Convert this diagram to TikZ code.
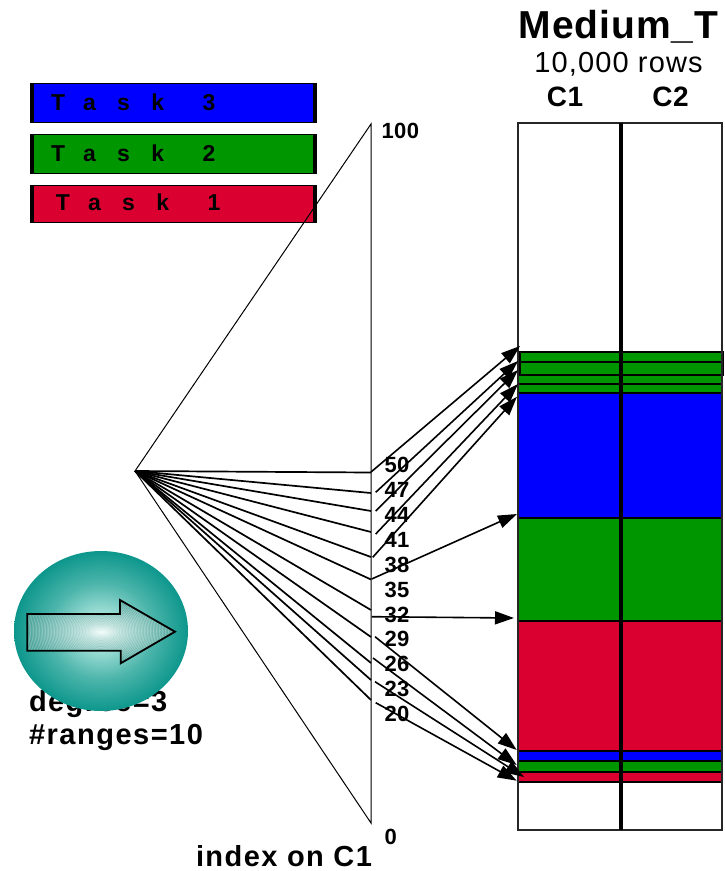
\documentclass[tikz,border=0pt]{standalone}
\usepackage{fontspec}
\setmainfont{Liberation Sans}
\usetikzlibrary{arrows.meta}
\definecolor{tblue}{RGB}{0,0,255}
\definecolor{tgreen}{RGB}{0,150,0}
\definecolor{tred}{RGB}{218,0,48}
\pgfdeclareradialshading{ballshade}{\pgfpoint{0bp}{0bp}}{rgb(0bp)=(0.82,0.95,0.93);rgb(6bp)=(0.62,0.87,0.84);rgb(15bp)=(0.30,0.71,0.67);rgb(25bp)=(0.05,0.59,0.55);rgb(50bp)=(0.05,0.59,0.55)}
\pgfdeclareradialshading{arrowshade}{\pgfpoint{0bp}{0bp}}{rgb(0bp)=(0.95,0.99,0.98);rgb(6bp)=(0.72,0.87,0.85);rgb(25bp)=(0.28,0.64,0.60);rgb(50bp)=(0.25,0.62,0.58)}
\tikzset{
  x=1pt,y=-1pt,
  every node/.style={inner sep=0pt,outer sep=0pt,font=\fontsize{22}{24}\selectfont\bfseries},
  num/.style={anchor=west},
  bigtext/.style={font=\fontsize{29}{32}\selectfont\bfseries,anchor=base west},
  bar/.style={draw=black,line width=1pt},
  cell/.style={draw=black!85,line width=1.8pt},
  fan/.style={line width=1.7pt},
  thin line/.style={line width=1pt},
  pointer/.style={line width=1.6pt,-{Triangle[length=19pt,width=13pt]}},
}
\newcommand{\taskword}[1]{T\hspace{18pt}a\hspace{21.2pt}s\hspace{21.6pt}k\hspace{38.5pt}#1}
\newcommand{\spaced}[2]{{\addfontfeature{LetterSpace=#1}#2}}
\begin{document}
\begin{tikzpicture}
\useasboundingbox (0,0) rectangle (725,871);
% title
\node[font=\fontsize{39}{42}\selectfont\bfseries,anchor=base] (title) at (618.5,38) {\spaced{2.3}{Medium\_T}};
\node[font=\fontsize{29}{32}\selectfont,anchor=base] (rows) at (618.5,72.5) {\spaced{4}{10,000 rows}};
\node[font=\fontsize{28}{30}\selectfont\bfseries,anchor=base] (c1) at (565,106) {\spaced{2}{C1}};
\node[font=\fontsize{28}{30}\selectfont\bfseries,anchor=base] (c2) at (670.5,106) {\spaced{2}{C2}};
% legend
\foreach \nm/\col/\ya/\yb/\tx/\lbl in {three/tblue/83.5/122.5/51/3,two/tgreen/134.5/173.5/51/2,one/tred/185/222.5/56/1}{
  \fill[\col] (30,\ya) rectangle (316,\yb);
  \draw[bar] (30,\ya) rectangle (316,\yb);
  \fill[black] (30,\ya) rectangle (33.5,\yb);
  \fill[black] (312.5,\ya) rectangle (316,\yb);
  \node[font=\fontsize{23}{25}\selectfont\bfseries,anchor=base west] (task\nm) at (\tx,{\yb-12.5}) {\taskword{\lbl}};
}
% table
\fill[white] (518,123) rectangle (722,830);
\foreach \ya/\yb/\col in {352/362/tgreen,362/375/tgreen,375/384/tgreen,384/393/tgreen,393/518/tblue,518/621/tgreen,621/751/tred,751/761/tblue,761/772/tgreen,772/782/tred}{
  \fill[\col] (518,\ya) rectangle (722,\yb);
  \draw[black,line width=1.3pt] (518,\ya) rectangle (722,\yb);
}
\draw[black,line width=1.3pt] (520,352) rectangle (723.5,375);
\draw[cell] (518,123) rectangle (722,830);
\draw[black,line width=4pt] (620.5,123) -- (620.5,830);
% fan / index triangle
\coordinate (apex) at (135,471);
\coordinate (top) at (371,124);
\coordinate (bot) at (371,823);
\draw[thin line] (top) -- (apex) -- (bot) -- cycle;
\foreach \nm/\y in {a/472.5,b/493,c/511,d/532,e/557,f/579.5,g/610,h/637,i/663,j/680,k/700}{
  \coordinate (f\nm) at (371,\y);
  \draw[fan] (apex) -- (f\nm);
}
% labels
\node[num] (n100) at (381.5,131) {\spaced{2}{100}};
\foreach \nm/\y/\lbl in {l50/465/50,l47/490/47,l44/515/44,l41/540/41,l38/565/38,l35/590/35,l32/615/32,l29/639/29,l26/664/26,l23/689/23,l20/714/20}{
  \node[num] (\nm) at (384.5,\y) {\spaced{2}{\lbl}};
}
\node[num] (n0) at (384.5,837) {0};
\node[bigtext] (idx) at (196,866) {\spaced{5}{index on C1}};
% arrows
\foreach \sx/\sy/\ex/\ey in {371/472/520/346,375.7/492.3/518/361,375.7/511/518/370,375.7/534/518/384,372.7/557.3/517/396.7,371.7/579/517/514,371.7/616.7/514/618,375/636.7/516.7/750,373/658/516.7/765,375/681.7/524/777,375.7/702.7/516.7/780.7}{
  \coordinate (s) at (\sx,\sy);
  \coordinate (e) at (\ex,\ey);
  \draw[pointer] (s) -- (e);
}
% info text and ball
\node[bigtext] (deg) at (29,711) {\spaced{5}{degree=3}};
\node[bigtext] (rng) at (29,744) {\spaced{5.2}{\#ranges=10}};
\path[shading=ballshade] (101,631) ellipse [x radius=87,y radius=80];
\path[shading=arrowshade] (27.3,614) -- (120,614) -- (120,600) -- (175,631.7) -- (120.7,663.3) -- (120.7,650.7) -- (27.3,650.7) -- cycle;
\begin{scope}
\clip (27.3,614) -- (120,614) -- (120,600) -- (175,631.7) -- (120.7,663.3) -- (120.7,650.7) -- (27.3,650.7) -- cycle;
\foreach \r in {3,4.5,...,90}{
  \draw[white,opacity=0.35,line width=0.5pt] (101,631) circle [radius=\r];
}
\end{scope}
\draw[draw=black,line width=1.8pt] (27.3,614) -- (120,614) -- (120,600) -- (175,631.7) -- (120.7,663.3) -- (120.7,650.7) -- (27.3,650.7) -- cycle;
\end{tikzpicture}
\end{document}
